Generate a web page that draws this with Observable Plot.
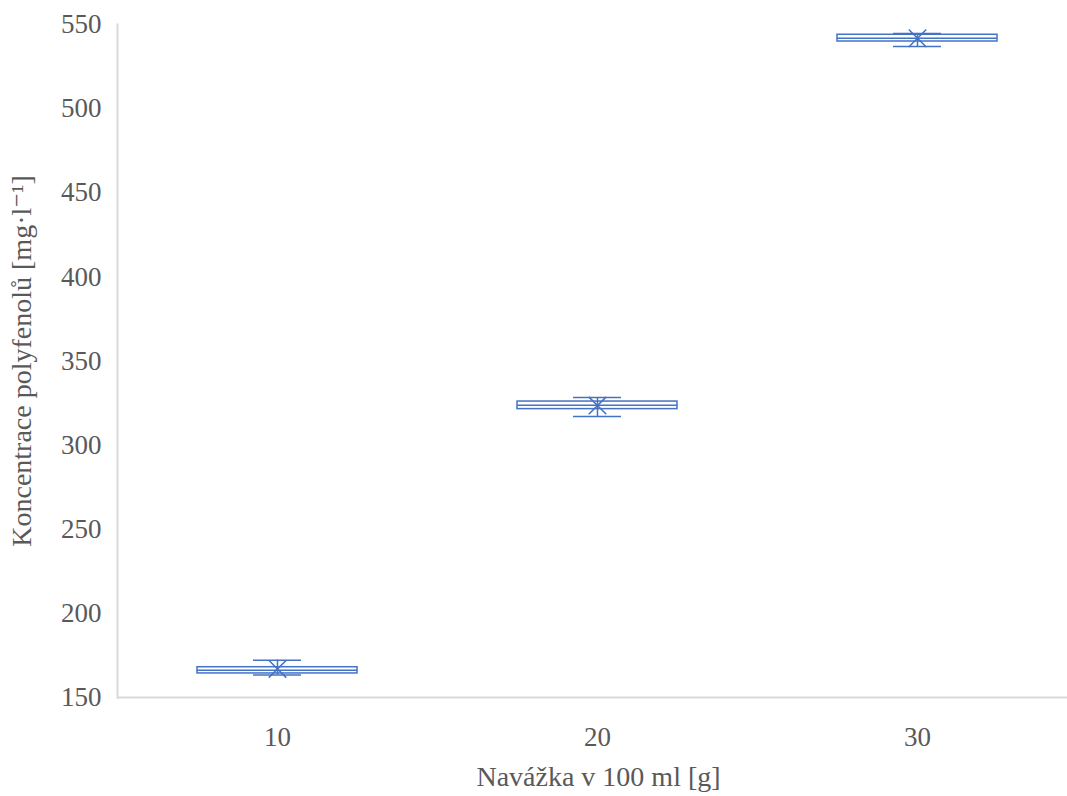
<!DOCTYPE html>
<html>
<head>
<meta charset="utf-8">
<script src="https://cdn.jsdelivr.net/npm/d3@7"></script>
<script src="https://cdn.jsdelivr.net/npm/@observablehq/plot@0.6"></script>
<style>
  html, body { margin: 0; padding: 0; background: #fff; }
  #chart svg { display: block; }
  #chart svg, #chart svg text { font-family: "Liberation Serif", "DejaVu Serif", serif !important; }
</style>
</head>
<body>
<div id="chart"></div>
<script>
// Sample weight per 100 ml (g)
const categories = ["10", "20", "30"];
// Polyphenol concentration summary statistics (mg·l⁻¹)
const minimums = [163.3, 317.0, 536.9];
const lowerQuartiles = [164.3, 321.4, 539.9];
const medians = [166.2, 323.7, 541.9];
const upperQuartiles = [168.0, 325.9, 543.9];
const maximums = [172.2, 328.3, 544.7];
const means = [167.0, 323.5, 541.8];
const yTicks = [150, 200, 250, 300, 350, 400, 450, 500, 550];

const rows = categories.map((c, i) => ({
  dose: c,
  min: minimums[i],
  q1: lowerQuartiles[i],
  median: medians[i],
  q3: upperQuartiles[i],
  max: maximums[i],
  mean: means[i]
}));

const blue = "#4472c4";
const axisGray = "#d9d9d9";
const textGray = "#595959";

const W = 1067, H = 796;
const mL = 117, mT = 24, mB = 99;

const chart = Plot.plot({
  width: W,
  height: H,
  marginLeft: mL,
  marginRight: 0,
  marginTop: mT,
  marginBottom: mB,
  style: {fontSize: "27px", color: textGray, background: "#fff"},
  x: {domain: categories, range: [mL, W + 10], paddingInner: 0.5, paddingOuter: 0.25, label: null},
  y: {domain: [150, 550], label: null},
  marks: [
    // axis lines
    Plot.frame({anchor: "left", stroke: axisGray, strokeWidth: 2}),
    Plot.ruleY([150], {stroke: axisGray, strokeWidth: 2}),
    Plot.axisY({ticks: yTicks, tickSize: 0, tickPadding: 16, label: null, fill: textGray, fontSize: 27}),
    Plot.axisX({tickSize: 0, tickPadding: 29, label: null, fill: textGray, fontSize: 27}),
    // whiskers
    Plot.ruleX(rows, {x: "dose", y1: "min", y2: "max", stroke: blue, strokeWidth: 1.5}),
    Plot.tickY(rows, {x: "dose", y: "max", stroke: blue, strokeWidth: 1.5, insetLeft: 56, insetRight: 56}),
    Plot.tickY(rows, {x: "dose", y: "min", stroke: blue, strokeWidth: 1.5, insetLeft: 56, insetRight: 56}),
    // boxes
    Plot.barY(rows, {x: "dose", y1: "q1", y2: "q3", fill: "white", fillOpacity: 0, stroke: blue, strokeWidth: 1.5}),
    Plot.tickY(rows, {x: "dose", y: "median", stroke: blue, strokeWidth: 1.5}),
    // means
    Plot.dot(rows, {x: "dose", y: "mean", symbol: "times", r: 8, stroke: blue, strokeWidth: 1.5}),
    // axis titles
    Plot.text(["Navážka v 100 ml [g]"], {frameAnchor: "bottom", dx: 6, dy: 88, text: d => d, fill: textGray, fontSize: 28}),
    Plot.text(["Koncentrace polyfenolů [mg·l⁻¹]"], {frameAnchor: "left", textAnchor: "middle", dx: -95, rotate: -90, text: d => d, fill: textGray, fontSize: 28})
  ]
});

document.getElementById("chart").appendChild(chart);
</script>
</body>
</html>
